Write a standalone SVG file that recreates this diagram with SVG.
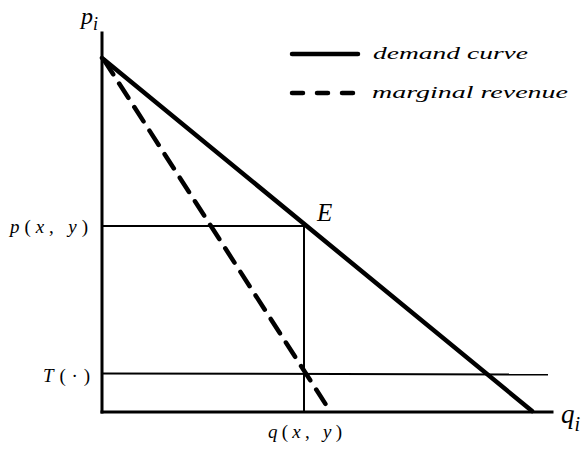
<svg xmlns="http://www.w3.org/2000/svg" width="585" height="458" viewBox="0 0 585 458">
<style>
text{font-family:'Liberation Serif','DejaVu Serif',serif;font-style:italic;fill:#000}
.u{font-style:normal}
.thin{stroke:#000;stroke-width:2;fill:none}
.axis{stroke:#000;stroke-width:3;fill:none;stroke-linecap:square}
.thick{stroke:#000;stroke-width:4.5;fill:none;stroke-linecap:round}
.dash{stroke:#000;stroke-width:4.5;fill:none;stroke-dasharray:17 11;stroke-linecap:round}
</style>
<rect width="585" height="458" fill="#fff"/>
<g id="connectors">
<line class="axis" x1="102" y1="33" x2="102" y2="412"/>
<line class="axis" x1="102" y1="412" x2="552" y2="412"/>
<line class="thin" x1="102" y1="226" x2="304" y2="226"/>
<line class="thin" x1="304" y1="226" x2="304" y2="412"/>
<line class="thin" x1="102" y1="373.5" x2="548" y2="374.5"/>
<line class="dash" x1="104" y1="60" x2="330" y2="411"/>
<line class="thick" x1="102" y1="58" x2="532" y2="411"/>
</g>
<g id="legend">
<line class="thick" x1="292" y1="54" x2="358" y2="54"/>
<line class="thick" x1="292" y1="93" x2="358" y2="93" style="stroke-dasharray:11 14"/>
<text x="373" y="59" font-size="17" textLength="155" lengthAdjust="spacingAndGlyphs">demand  curve</text>
<text x="372" y="98" font-size="17" textLength="196" lengthAdjust="spacingAndGlyphs">marginal  revenue</text>
</g>
<g id="labels">
<text x="81" y="24" font-size="24">p<tspan font-size="18" dy="6">i</tspan></text>
<text x="561" y="423" font-size="27">q<tspan font-size="20" dy="8">i</tspan></text>
<text x="317" y="221" font-size="25">E</text>
<text x="10" y="233" font-size="19" textLength="78" lengthAdjust="spacing">p<tspan class="u">(</tspan>x<tspan class="u">, </tspan>y<tspan class="u">)</tspan></text>
<text x="43" y="382" font-size="19" textLength="47" lengthAdjust="spacing">T<tspan class="u">(·)</tspan></text>
<text x="268" y="438" font-size="19" textLength="74" lengthAdjust="spacing">q<tspan class="u">(</tspan>x<tspan class="u">, </tspan>y<tspan class="u">)</tspan></text>
</g>
</svg>
